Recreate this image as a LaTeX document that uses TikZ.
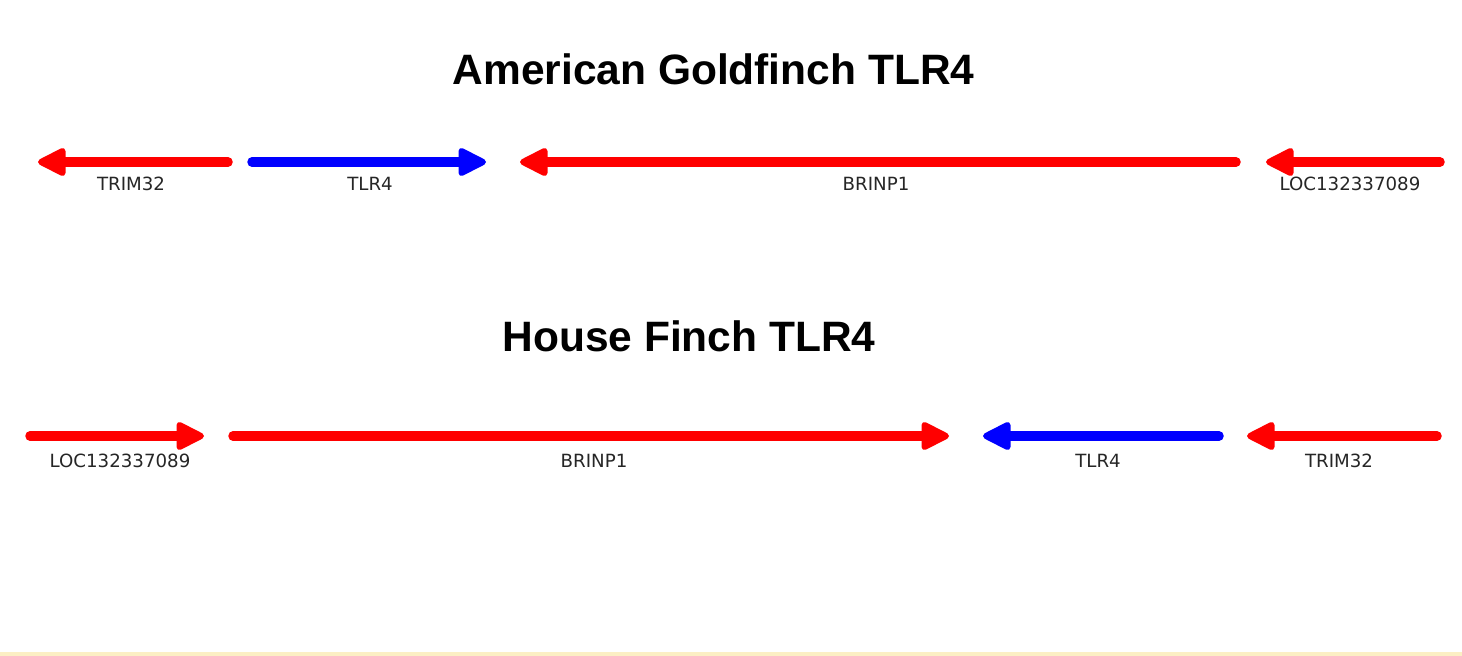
\documentclass[tikz,border=0pt]{standalone}
\usepackage{fontspec}
\setmainfont{Liberation Sans}
\newfontfamily\labelfont{DejaVu Sans}
\definecolor{genered}{RGB}{255,0,0}
\definecolor{geneblue}{RGB}{0,0,255}
\definecolor{stripyellow}{RGB}{252,239,196}
\begin{document}
\begin{tikzpicture}[x=1pt,y=-1pt,
  shaft/.style={line width=9.5pt, line cap=round},
  headtip/.style={line width=6pt, line join=round},
  glabel/.style={font=\labelfont\fontsize{18.2}{20}\selectfont, text=black!85, anchor=base, inner sep=0pt},
  gtitle/.style={font=\bfseries\fontsize{42.5}{48}\selectfont, anchor=base, inner sep=0pt}]
\useasboundingbox (0,0) rectangle (1462,656);
\fill[white] (0,0) rectangle (1462,656);
\fill[stripyellow] (0,652) rectangle (1462,656);

% titles
\node[gtitle] (t1) at (713.5,84) {American Goldfinch TLR4};
\node[gtitle] (t2) at (689,351) {House Finch TLR4};

% top row (y=162): s = tail, h = head base, e = tip
\coordinate (a1s) at (228,162); \coordinate (a1h) at (58,162);   \coordinate (a1e) at (38,162);
\coordinate (a2s) at (252,162); \coordinate (a2h) at (466,162);  \coordinate (a2e) at (486,162);
\coordinate (a3s) at (1236,162); \coordinate (a3h) at (540,162); \coordinate (a3e) at (520,162);
\coordinate (a4s) at (1440,162); \coordinate (a4h) at (1286,162); \coordinate (a4e) at (1266,162);
\draw[shaft, genered] (a1s) -- (a1h);
\draw[shaft, geneblue] (a2s) -- (a2h);
\draw[shaft, genered] (a3s) -- (a3h);
\draw[shaft, genered] (a4s) -- (a4h);
\filldraw[headtip, genered, shift={(a1e)}, xscale=-1] (-24.5,-11) -- (-3,0) -- (-24.5,11) -- cycle;
\filldraw[headtip, geneblue, shift={(a2e)}] (-24.5,-11) -- (-3,0) -- (-24.5,11) -- cycle;
\filldraw[headtip, genered, shift={(a3e)}, xscale=-1] (-24.5,-11) -- (-3,0) -- (-24.5,11) -- cycle;
\filldraw[headtip, genered, shift={(a4e)}, xscale=-1] (-24.5,-11) -- (-3,0) -- (-24.5,11) -- cycle;
\node[glabel] (l1) at (131,190.5) {TRIM32};
\node[glabel] (l2) at (370,190.5) {TLR4};
\node[glabel] (l3) at (876,190.5) {BRINP1};
\node[glabel] (l4) at (1350,190.5) {LOC132337089};

% bottom row (y=436)
\coordinate (b1s) at (30,436); \coordinate (b1h) at (184,436); \coordinate (b1e) at (204,436);
\coordinate (b2s) at (233,436); \coordinate (b2h) at (929,436); \coordinate (b2e) at (949,436);
\coordinate (b3s) at (1219,436); \coordinate (b3h) at (1003,436); \coordinate (b3e) at (983,436);
\coordinate (b4s) at (1437,436); \coordinate (b4h) at (1267,436); \coordinate (b4e) at (1247,436);
\draw[shaft, genered] (b1s) -- (b1h);
\draw[shaft, genered] (b2s) -- (b2h);
\draw[shaft, geneblue] (b3s) -- (b3h);
\draw[shaft, genered] (b4s) -- (b4h);
\filldraw[headtip, genered, shift={(b1e)}] (-24.5,-11) -- (-3,0) -- (-24.5,11) -- cycle;
\filldraw[headtip, genered, shift={(b2e)}] (-24.5,-11) -- (-3,0) -- (-24.5,11) -- cycle;
\filldraw[headtip, geneblue, shift={(b3e)}, xscale=-1] (-24.5,-11) -- (-3,0) -- (-24.5,11) -- cycle;
\filldraw[headtip, genered, shift={(b4e)}, xscale=-1] (-24.5,-11) -- (-3,0) -- (-24.5,11) -- cycle;
\node[glabel] (m1) at (120,467) {LOC132337089};
\node[glabel] (m2) at (594,467) {BRINP1};
\node[glabel] (m3) at (1098,467) {TLR4};
\node[glabel] (m4) at (1339,467) {TRIM32};
\end{tikzpicture}
\end{document}
